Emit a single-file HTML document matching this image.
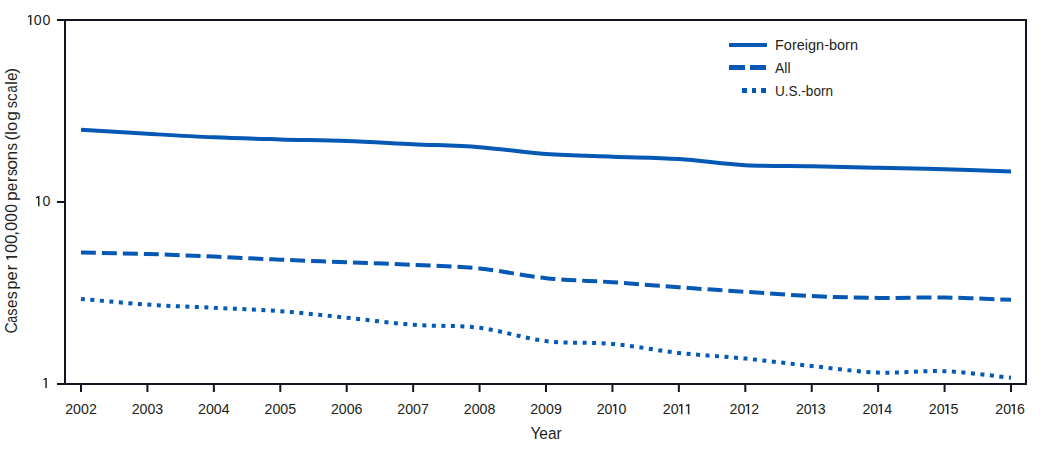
<!DOCTYPE html>
<html><head><meta charset="utf-8"><style>
html,body{margin:0;padding:0;background:#fff;width:1045px;height:453px;overflow:hidden}
svg{display:block}
text{font-family:"Liberation Sans", sans-serif;fill:#231f20}
</style></head><body>
<svg width="1045" height="453" viewBox="0 0 1045 453">
<path d="M57,20 H1026 V384 H57 M65,20 V384 M57,202 H65" fill="none" stroke="#111522" stroke-width="2"/>
<line x1="81.00" y1="384" x2="81.00" y2="392" stroke="#111522" stroke-width="2"/>
<line x1="147.43" y1="384" x2="147.43" y2="392" stroke="#111522" stroke-width="2"/>
<line x1="213.86" y1="384" x2="213.86" y2="392" stroke="#111522" stroke-width="2"/>
<line x1="280.29" y1="384" x2="280.29" y2="392" stroke="#111522" stroke-width="2"/>
<line x1="346.71" y1="384" x2="346.71" y2="392" stroke="#111522" stroke-width="2"/>
<line x1="413.14" y1="384" x2="413.14" y2="392" stroke="#111522" stroke-width="2"/>
<line x1="479.57" y1="384" x2="479.57" y2="392" stroke="#111522" stroke-width="2"/>
<line x1="546.00" y1="384" x2="546.00" y2="392" stroke="#111522" stroke-width="2"/>
<line x1="612.43" y1="384" x2="612.43" y2="392" stroke="#111522" stroke-width="2"/>
<line x1="678.86" y1="384" x2="678.86" y2="392" stroke="#111522" stroke-width="2"/>
<line x1="745.29" y1="384" x2="745.29" y2="392" stroke="#111522" stroke-width="2"/>
<line x1="811.71" y1="384" x2="811.71" y2="392" stroke="#111522" stroke-width="2"/>
<line x1="878.14" y1="384" x2="878.14" y2="392" stroke="#111522" stroke-width="2"/>
<line x1="944.57" y1="384" x2="944.57" y2="392" stroke="#111522" stroke-width="2"/>
<line x1="1011.00" y1="384" x2="1011.00" y2="392" stroke="#111522" stroke-width="2"/>
<path d="M81.00,129.80 C92.07,130.47 125.29,132.55 147.43,133.80 C169.57,135.05 191.71,136.37 213.86,137.30 C236.00,138.23 258.14,138.78 280.29,139.40 C302.43,140.02 324.57,140.20 346.71,141.00 C368.86,141.80 391.00,143.17 413.14,144.20 C435.29,145.23 457.43,145.57 479.57,147.20 C501.71,148.83 523.86,152.42 546.00,154.00 C568.14,155.58 590.29,155.87 612.43,156.70 C634.57,157.53 656.71,157.58 678.86,159.00 C701.00,160.42 723.14,163.98 745.29,165.20 C767.43,166.42 789.57,165.88 811.71,166.30 C833.86,166.72 856.00,167.20 878.14,167.70 C900.29,168.20 922.43,168.67 944.57,169.30 C966.71,169.93 999.93,171.13 1011.00,171.50" fill="none" stroke="#0558b4" stroke-width="4"/>
<path d="M81.00,252.60 C92.07,252.83 125.29,253.33 147.43,254.00 C169.57,254.67 191.71,255.65 213.86,256.60 C236.00,257.55 258.14,258.77 280.29,259.70 C302.43,260.63 324.57,261.35 346.71,262.20 C368.86,263.05 391.00,263.75 413.14,264.80 C435.29,265.85 457.43,266.27 479.57,268.50 C501.71,270.73 523.86,275.92 546.00,278.20 C568.14,280.48 590.29,280.68 612.43,282.20 C634.57,283.72 656.71,285.70 678.86,287.30 C701.00,288.90 723.14,290.33 745.29,291.80 C767.43,293.27 789.57,295.08 811.71,296.10 C833.86,297.12 856.00,297.67 878.14,297.90 C900.29,298.13 922.43,297.18 944.57,297.50 C966.71,297.82 999.93,299.42 1011.00,299.80" fill="none" stroke="#0558b4" stroke-width="4" stroke-dasharray="15 5.93"/>
<path d="M81.00,298.90 C92.07,299.85 125.29,303.12 147.43,304.60 C169.57,306.08 191.71,306.70 213.86,307.80 C236.00,308.90 258.14,309.55 280.29,311.20 C302.43,312.85 324.57,315.43 346.71,317.70 C368.86,319.97 391.00,323.12 413.14,324.80 C435.29,326.48 457.43,325.08 479.57,327.80 C501.71,330.52 523.86,338.42 546.00,341.10 C568.14,343.78 590.29,341.93 612.43,343.90 C634.57,345.87 656.71,350.45 678.86,352.90 C701.00,355.35 723.14,356.42 745.29,358.60 C767.43,360.78 789.57,363.67 811.71,366.00 C833.86,368.33 856.00,371.73 878.14,372.60 C900.29,373.47 922.43,370.33 944.57,371.20 C966.71,372.07 999.93,376.70 1011.00,377.80" fill="none" stroke="#0558b4" stroke-width="4" stroke-dasharray="4 5.513"/>
<rect x="729" y="43" width="38" height="4" fill="#0558b4"/>
<rect x="729" y="65" width="16" height="5" fill="#0558b4"/>
<rect x="750" y="65" width="16" height="5" fill="#0558b4"/>
<rect x="742" y="88" width="5" height="5" fill="#0558b4"/>
<rect x="752" y="88" width="4" height="5" fill="#0558b4"/>
<rect x="761" y="88" width="5" height="5" fill="#0558b4"/>
<text x="775" y="49.8" font-size="15.2" textLength="83" lengthAdjust="spacingAndGlyphs">Foreign-born</text>
<text x="775" y="73" font-size="15.2" textLength="15.5" lengthAdjust="spacingAndGlyphs">All</text>
<text x="775" y="96.2" font-size="15.2" textLength="58" lengthAdjust="spacingAndGlyphs">U.S.-born</text>
<path d="M29.90,14.90 H31.40 V25.00 H29.90 V16.60 L28.05,17.25 L27.85,16.15 Z" fill="#2a2a2e"/>
<text x="33.80" y="25.00" font-size="14.2">0</text>
<text x="42.50" y="25.00" font-size="14.2">0</text>
<path d="M38.00,196.10 H39.50 V206.20 H38.00 V197.80 L36.15,198.45 L35.95,197.35 Z" fill="#2a2a2e"/>
<text x="42.40" y="206.20" font-size="14.2">0</text>
<path d="M45.30,377.90 H46.80 V388.00 H45.30 V379.60 L43.45,380.25 L43.25,379.15 Z" fill="#2a2a2e"/>
<text x="81.00" y="414.2" font-size="14.2" text-anchor="middle">2002</text>
<text x="147.43" y="414.2" font-size="14.2" text-anchor="middle">2003</text>
<text x="213.86" y="414.2" font-size="14.2" text-anchor="middle">2004</text>
<text x="280.29" y="414.2" font-size="14.2" text-anchor="middle">2005</text>
<text x="346.71" y="414.2" font-size="14.2" text-anchor="middle">2006</text>
<text x="413.14" y="414.2" font-size="14.2" text-anchor="middle">2007</text>
<text x="479.57" y="414.2" font-size="14.2" text-anchor="middle">2008</text>
<text x="546.00" y="414.2" font-size="14.2" text-anchor="middle">2009</text>
<text x="596.73" y="414.20" font-size="14.2">2</text>
<text x="604.58" y="414.20" font-size="14.2">0</text>
<path d="M614.83,404.10 H616.33 V414.20 H614.83 V405.80 L612.98,406.45 L612.78,405.35 Z" fill="#2a2a2e"/>
<text x="618.48" y="414.20" font-size="14.2">0</text>
<text x="662.86" y="414.20" font-size="14.2">2</text>
<text x="670.71" y="414.20" font-size="14.2">0</text>
<path d="M680.96,404.10 H682.46 V414.20 H680.96 V405.80 L679.11,406.45 L678.91,405.35 Z" fill="#2a2a2e"/>
<path d="M687.86,404.10 H689.36 V414.20 H687.86 V405.80 L686.01,406.45 L685.81,405.35 Z" fill="#2a2a2e"/>
<text x="729.59" y="414.20" font-size="14.2">2</text>
<text x="737.44" y="414.20" font-size="14.2">0</text>
<path d="M747.69,404.10 H749.19 V414.20 H747.69 V405.80 L745.84,406.45 L745.64,405.35 Z" fill="#2a2a2e"/>
<text x="751.34" y="414.20" font-size="14.2">2</text>
<text x="796.01" y="414.20" font-size="14.2">2</text>
<text x="803.86" y="414.20" font-size="14.2">0</text>
<path d="M814.11,404.10 H815.61 V414.20 H814.11 V405.80 L812.26,406.45 L812.06,405.35 Z" fill="#2a2a2e"/>
<text x="817.76" y="414.20" font-size="14.2">3</text>
<text x="862.44" y="414.20" font-size="14.2">2</text>
<text x="870.29" y="414.20" font-size="14.2">0</text>
<path d="M880.54,404.10 H882.04 V414.20 H880.54 V405.80 L878.69,406.45 L878.49,405.35 Z" fill="#2a2a2e"/>
<text x="884.19" y="414.20" font-size="14.2">4</text>
<text x="928.87" y="414.20" font-size="14.2">2</text>
<text x="936.72" y="414.20" font-size="14.2">0</text>
<path d="M946.97,404.10 H948.47 V414.20 H946.97 V405.80 L945.12,406.45 L944.92,405.35 Z" fill="#2a2a2e"/>
<text x="950.62" y="414.20" font-size="14.2">5</text>
<text x="995.30" y="414.20" font-size="14.2">2</text>
<text x="1003.15" y="414.20" font-size="14.2">0</text>
<path d="M1013.40,404.10 H1014.90 V414.20 H1013.40 V405.80 L1011.55,406.45 L1011.35,405.35 Z" fill="#2a2a2e"/>
<text x="1017.05" y="414.20" font-size="14.2">6</text>
<g transform="translate(17.2,332.20) rotate(-90)">
<text transform="translate(-1.35,0) scale(0.934,1)" font-size="16.7">C</text>
<text transform="translate(9.49,0) scale(0.733,1)" font-size="16.7">a</text>
<text transform="translate(16.47,0) scale(0.863,1)" font-size="16.7">s</text>
<text transform="translate(24.26,0) scale(0.911,1)" font-size="16.7">e</text>
<text transform="translate(32.83,0) scale(0.945,1)" font-size="16.7">s</text>
<text transform="translate(42.64,0) scale(0.960,1)" font-size="16.7">p</text>
<text transform="translate(51.70,0) scale(1.000,1)" font-size="16.7">e</text>
<text transform="translate(61.69,0) scale(1.050,1)" font-size="16.7">r</text>
<text transform="translate(79.33,0) scale(0.951,1)" font-size="16.7">0</text>
<text transform="translate(88.09,0) scale(1.012,1)" font-size="16.7">0</text>
<text transform="translate(96.55,0) scale(1.000,1)" font-size="16.7">,</text>
<text transform="translate(101.33,0) scale(0.951,1)" font-size="16.7">0</text>
<text transform="translate(110.34,0) scale(0.926,1)" font-size="16.7">0</text>
<text transform="translate(119.54,0) scale(0.938,1)" font-size="16.7">0</text>
<text transform="translate(131.26,0) scale(1.050,1)" font-size="16.7">p</text>
<text transform="translate(141.19,0) scale(0.873,1)" font-size="16.7">e</text>
<text transform="translate(150.25,0) scale(0.952,1)" font-size="16.7">r</text>
<text transform="translate(156.08,0) scale(0.849,1)" font-size="16.7">s</text>
<text transform="translate(162.52,0) scale(1.050,1)" font-size="16.7">o</text>
<text transform="translate(171.72,0) scale(1.050,1)" font-size="16.7">n</text>
<text transform="translate(181.65,0) scale(0.904,1)" font-size="16.7">s</text>
<text transform="translate(191.60,0) scale(1.000,1)" font-size="16.7">(</text>
<text transform="translate(197.35,0) scale(1.000,1)" font-size="16.7">l</text>
<text transform="translate(201.31,0) scale(0.987,1)" font-size="16.7">o</text>
<text transform="translate(211.48,0) scale(1.050,1)" font-size="16.7">g</text>
<text transform="translate(223.97,0) scale(0.863,1)" font-size="16.7">s</text>
<text transform="translate(231.15,0) scale(0.931,1)" font-size="16.7">c</text>
<text transform="translate(239.67,0) scale(0.756,1)" font-size="16.7">a</text>
<text transform="translate(247.40,0) scale(1.000,1)" font-size="16.7">l</text>
<text transform="translate(251.49,0) scale(0.873,1)" font-size="16.7">e</text>
<text transform="translate(258.80,0) scale(1.000,1)" font-size="16.7">)</text>
<path d="M74.50,-11.00 H76.20 V0 H74.50 V-9.20 L72.70,-8.40 L72.50,-9.60 Z" fill="#2a2a2e"/>
</g>
<text x="530.43" y="438.80" font-size="16.70" textLength="31.20" lengthAdjust="spacingAndGlyphs">Year</text>
</svg>
</body></html>
